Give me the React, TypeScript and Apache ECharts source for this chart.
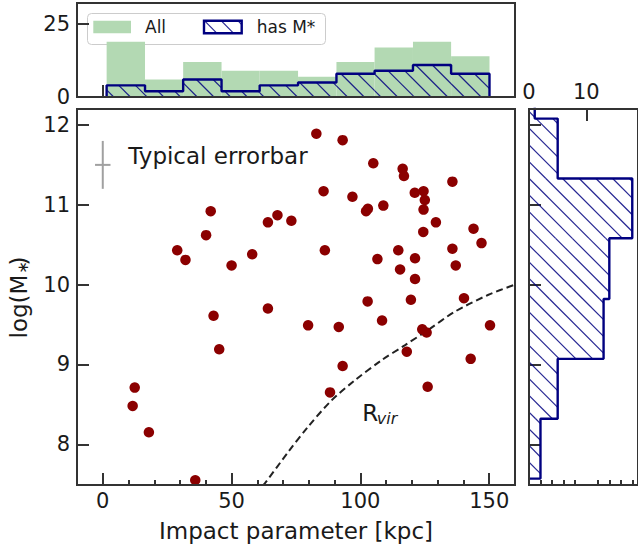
import React, { useEffect, useRef } from 'react';
import * as echarts from 'echarts';

// ---------------- data ----------------
const impactKpc = [
  82.9, 93.1, 105.0, 116.4, 116.9, 135.7, 85.7, 96.9, 121.1, 124.5,
  125.0, 41.9, 102.9, 108.9, 124.5, 67.8, 40.1, 64.1, 73.2, 129.3,
  124.4, 143.9, 147.0, 28.9, 32.1, 50.0, 58.0, 86.2, 114.7, 135.7,
  106.6, 121.2, 137.0, 115.4, 121.2, 43.0, 64.1, 102.8, 119.6, 140.2,
  79.7, 91.6, 108.4, 124.0, 125.7, 150.3, 45.2, 118.0, 93.1, 142.8,
  12.4, 11.6, 88.2, 126.1, 17.9, 35.9, 102.2,
];
const logMstar = [
  11.89, 11.81, 11.52, 11.45, 11.36, 11.29, 11.17, 11.10, 11.15, 11.17,
  11.06, 10.92, 10.95, 10.99, 10.94, 10.87, 10.62, 10.78, 10.80, 10.78,
  10.66, 10.70, 10.52, 10.43, 10.31, 10.24, 10.38, 10.43, 10.43, 10.45,
  10.32, 10.33, 10.24, 10.19, 10.07, 9.61, 9.70, 9.79, 9.81, 9.83,
  9.49, 9.47, 9.55, 9.44, 9.40, 9.49, 9.19, 9.16, 8.98, 9.07,
  8.71, 8.48, 8.65, 8.72, 8.15, 7.55, 10.92,
];

// virial radius curve
const rvirKpc = [62.0, 62.9, 71.9, 79.7, 88.8, 97.8, 108.1, 117.2, 126.2, 136.6, 149.5, 160.0];
const rvirLogM = [7.48, 7.51, 7.90, 8.22, 8.55, 8.80, 9.05, 9.24, 9.43, 9.66, 9.87, 10.0];

// top histogram (impact parameter)
const topBinEdges = [1.5, 16.4, 31.2, 46.1, 60.9, 75.8, 90.7, 105.5, 120.4, 135.2, 150.1];
const allCounts = [19, 6, 12, 9, 9, 7, 12, 17, 19, 14];
const massCounts = [4, 2, 6, 2, 4, 5, 8, 9, 11, 8];

// right histogram (log M*)
const rightBinEdges = [7.57, 8.32, 9.07, 9.82, 10.58, 11.33, 12.08, 12.84];
const rightCounts = [2, 5, 13, 14, 18, 5, 1];

// typical error bar [x, y, xerr, yerr]
const errorBar = [0, 11.5, 3, 0.3];

// tick values
const xMajorTicks = [0, 50, 100, 150];
const xMinorTicks = [-10, 10, 20, 30, 40, 60, 70, 80, 90, 110, 120, 130, 140, 160];
const yTicks = [8, 9, 10, 11, 12];
const topYTicks = [0, 25];
const rightXMajor = [0, 10];
const rightXMinor = [2, 4, 6, 8, 12, 14, 16, 18];

// ---------------- styles ----------------
const FONT = "'DejaVu Sans', sans-serif";
const TXT = '#1a1a1a';
const SPINE = '#333333';
const NAVY = '#000080';
const GREEN = '#b3d9b3';
const RED = '#8b0000';
const HATCH_STEP = 16.7;

function hatchSegments(x0: number, y0: number, x1: number, y1: number) {
  const segs: number[][] = [];
  const cMin = y0 - x1;
  const cMax = y1 - x0;
  for (let k = Math.ceil(cMin / HATCH_STEP); k * HATCH_STEP <= cMax; k++) {
    const c = k * HATCH_STEP;
    const xa = Math.max(x0, y0 - c);
    const xb = Math.min(x1, y1 - c);
    if (xb - xa > 0.5) segs.push([xa, xa + c, xb, xb + c]);
  }
  return segs;
}

function hatchLines(x0: number, y0: number, x1: number, y1: number) {
  return hatchSegments(x0, y0, x1, y1).map((s) => ({
    type: 'line',
    silent: true,
    shape: { x1: s[0], y1: s[1], x2: s[2], y2: s[3] },
    style: { stroke: NAVY, lineWidth: 1.2, opacity: 0.85 },
  }));
}

function stepTop(edges: number[], counts: number[]) {
  const pts: number[][] = [[edges[0], 0]];
  counts.forEach((c, i) => {
    pts.push([edges[i], c]);
    pts.push([edges[i + 1], c]);
  });
  pts.push([edges[edges.length - 1], 0]);
  return pts;
}

function stepRight(edges: number[], counts: number[]) {
  const pts: number[][] = [[0, edges[0]]];
  counts.forEach((c, i) => {
    pts.push([c, edges[i]]);
    pts.push([c, edges[i + 1]]);
  });
  pts.push([0, edges[edges.length - 1]]);
  return pts;
}

const tickStyle = { color: SPINE, width: 2 };
const labelStyle = { fontSize: 21, color: TXT, fontFamily: FONT };

function xAxisDef(gridIndex: number, min: number, max: number, ticks: number[], len: number, labels: boolean, position: string, margin = 5) {
  return {
    type: 'value',
    gridIndex,
    min,
    max,
    position,
    axisLine: { show: false, onZero: false },
    axisTick: { show: true, inside: true, length: len, lineStyle: tickStyle, customValues: ticks },
    axisLabel: labels ? { show: true, customValues: ticks, margin, ...labelStyle } : { show: false },
    splitLine: { show: false },
  };
}

function yAxisDef(gridIndex: number, min: number, max: number, ticks: number[], labels: boolean) {
  return {
    type: 'value',
    gridIndex,
    min,
    max,
    position: 'left',
    axisLine: { show: false, onZero: false },
    axisTick: { show: true, inside: true, length: 12, lineStyle: tickStyle, customValues: ticks },
    axisLabel: labels ? { show: true, customValues: ticks, margin: 7, ...labelStyle } : { show: false },
    splitLine: { show: false },
  };
}

export default function App() {
  const ref = useRef<HTMLDivElement>(null);

  useEffect(() => {
    document.body.style.margin = '0';
    if (!ref.current) return;
    const chart = echarts.init(ref.current, null, { renderer: 'svg' });

    const gridBase = { show: true, borderColor: SPINE, borderWidth: 2, backgroundColor: 'transparent', z: 5 };

    const option: any = {
      animation: false,
      grid: [
        { ...gridBase, left: 77, top: 109, width: 438, height: 376 },
        { ...gridBase, left: 77, top: 3, width: 438, height: 94 },
        { ...gridBase, left: 529, top: 109, width: 111, height: 376 },
      ],
      xAxis: [
        xAxisDef(0, -10, 160, xMajorTicks, 12, true, 'bottom', 5),
        xAxisDef(0, -10, 160, xMinorTicks, 5, false, 'bottom'),
        xAxisDef(1, -10, 160, xMajorTicks, 12, false, 'bottom'),
        xAxisDef(1, -10, 160, xMinorTicks, 5, false, 'bottom'),
        xAxisDef(2, 0, 19, rightXMajor, 12, true, 'top', 7),
        xAxisDef(2, 0, 19, rightXMinor, 5, false, 'bottom'),
      ],
      yAxis: [
        yAxisDef(0, 7.49, 12.2, yTicks, true),
        yAxisDef(1, 0, 32.3, topYTicks, true),
        yAxisDef(2, 7.49, 12.2, yTicks, false),
      ],
      series: [
        // top: all
        {
          type: 'custom',
          xAxisIndex: 2,
          yAxisIndex: 1,
          encode: { x: [0, 1], y: 2 },
          data: allCounts.map((c, i) => [topBinEdges[i], topBinEdges[i + 1], c]),
          renderItem: (_p: any, api: any) => {
            const a = api.coord([api.value(0), 0]);
            const b = api.coord([api.value(1), api.value(2)]);
            return {
              type: 'rect',
              shape: { x: a[0], y: b[1], width: b[0] - a[0], height: a[1] - b[1] },
              style: { fill: GREEN },
            };
          },
          silent: true,
        },
        // top: has M* hatch
        {
          type: 'custom',
          xAxisIndex: 2,
          yAxisIndex: 1,
          encode: { x: [0, 1], y: 2 },
          data: massCounts.map((c, i) => [topBinEdges[i], topBinEdges[i + 1], c]),
          renderItem: (_p: any, api: any) => {
            const a = api.coord([api.value(0), 0]);
            const b = api.coord([api.value(1), api.value(2)]);
            return { type: 'group', children: hatchLines(a[0], b[1], b[0], a[1]) };
          },
          silent: true,
        },
        {
          type: 'line',
          xAxisIndex: 2,
          yAxisIndex: 1,
          data: stepTop(topBinEdges, massCounts),
          symbol: 'none',
          lineStyle: { color: NAVY, width: 2.4 },
          clip: true,
          silent: true,
        },
        // right: hatch
        {
          type: 'custom',
          xAxisIndex: 4,
          yAxisIndex: 2,
          encode: { x: 0, y: [1, 2] },
          clip: true,
          data: rightCounts.map((c, i) => [c, rightBinEdges[i], rightBinEdges[i + 1]]),
          renderItem: (_p: any, api: any) => {
            const a = api.coord([0, api.value(1)]);
            const b = api.coord([api.value(0), api.value(2)]);
            return { type: 'group', children: hatchLines(a[0], b[1], b[0], a[1]) };
          },
          silent: true,
        },
        {
          type: 'line',
          xAxisIndex: 4,
          yAxisIndex: 2,
          data: stepRight(rightBinEdges, rightCounts),
          symbol: 'none',
          lineStyle: { color: NAVY, width: 2.4 },
          clip: true,
          silent: true,
        },
        // main: Rvir curve
        {
          type: 'line',
          xAxisIndex: 0,
          yAxisIndex: 0,
          data: rvirKpc.map((x, i) => [x, rvirLogM[i]]),
          symbol: 'none',
          smooth: 0.3,
          lineStyle: { color: '#222222', width: 2, type: [7, 4] },
          clip: true,
          silent: true,
        },
        // main: error bar
        {
          type: 'custom',
          xAxisIndex: 0,
          yAxisIndex: 0,
          encode: { x: 0, y: 1 },
          data: [errorBar],
          renderItem: (_p: any, api: any) => {
            const x = api.value(0), y = api.value(1), dx = api.value(2), dy = api.value(3);
            const t = api.coord([x, y + dy]);
            const bt = api.coord([x, y - dy]);
            const l = api.coord([x - dx, y]);
            const r = api.coord([x + dx, y]);
            const st = { stroke: '#a0a0a0', lineWidth: 2 };
            return {
              type: 'group',
              children: [
                { type: 'line', shape: { x1: t[0], y1: t[1], x2: bt[0], y2: bt[1] }, style: st },
                { type: 'line', shape: { x1: l[0], y1: l[1], x2: r[0], y2: r[1] }, style: st },
              ],
            };
          },
          silent: true,
        },
        // main: scatter
        {
          type: 'scatter',
          xAxisIndex: 0,
          yAxisIndex: 0,
          data: impactKpc.map((x, i) => [x, logMstar[i]]),
          symbolSize: 10.5,
          itemStyle: { color: RED, opacity: 1 },
          silent: true,
          z: 3,
        },
      ],
      graphic: [
        // legend
        {
          type: 'group',
          z: 100,
          children: [
            {
              type: 'rect',
              shape: { x: 87.5, y: 13.5, width: 238, height: 31, r: 4 },
              style: { fill: 'rgba(255,255,255,0.8)', stroke: '#cccccc', lineWidth: 1 },
            },
            { type: 'rect', shape: { x: 93.3, y: 20.7, width: 37.7, height: 12.6 }, style: { fill: GREEN } },
            {
              type: 'text',
              x: 145,
              y: 27.3,
              style: { text: 'All', fontSize: 17, fontFamily: FONT, fill: TXT, verticalAlign: 'middle', align: 'left' },
            },
            ...hatchLines(204, 20.7, 241.7, 33.3),
            {
              type: 'rect',
              shape: { x: 204, y: 20.7, width: 37.7, height: 12.6 },
              style: { fill: 'none', stroke: NAVY, lineWidth: 2.4 },
            },
            {
              type: 'text',
              x: 256.7,
              y: 27.3,
              style: { text: 'has M*', fontSize: 17, fontFamily: FONT, fill: TXT, verticalAlign: 'middle', align: 'left' },
            },
          ],
        },
        // errorbar label
        {
          type: 'text',
          z: 50,
          x: 128.3,
          y: 156,
          style: { text: 'Typical errorbar', fontSize: 23, fontFamily: FONT, fill: TXT, verticalAlign: 'middle', align: 'left' },
        },
        // R_vir label
        {
          type: 'text',
          z: 50,
          x: 362.3,
          y: 413,
          style: { text: 'R', fontSize: 23, fontFamily: FONT, fill: TXT, verticalAlign: 'middle', align: 'left' },
        },
        {
          type: 'text',
          z: 50,
          x: 376.8,
          y: 418.5,
          style: { text: 'vir', fontSize: 16, fontStyle: 'italic', fontFamily: FONT, fill: TXT, verticalAlign: 'middle', align: 'left' },
        },
        // x axis name
        {
          type: 'text',
          z: 50,
          x: 296,
          y: 531,
          style: { text: 'Impact parameter [kpc]', fontSize: 23, fontFamily: FONT, fill: TXT, verticalAlign: 'middle', align: 'center' },
        },
        // y axis name (rotated)
        {
          type: 'group',
          z: 50,
          x: 19,
          y: 297.5,
          rotation: Math.PI / 2,
          children: [
            {
              type: 'text',
              x: -41,
              y: 0,
              style: { text: 'log(M', fontSize: 23, fontFamily: FONT, fill: TXT, verticalAlign: 'middle', align: 'left' },
            },
            {
              type: 'text',
              x: 23.8,
              y: 4,
              style: { text: '∗', fontSize: 15, fontFamily: FONT, fill: TXT, verticalAlign: 'middle', align: 'left' },
            },
            {
              type: 'text',
              x: 32,
              y: 0,
              style: { text: ')', fontSize: 23, fontFamily: FONT, fill: TXT, verticalAlign: 'middle', align: 'left' },
            },
          ],
        },
      ],
    };

    chart.setOption(option);
    return () => chart.dispose();
  }, []);

  return <div ref={ref} style={{ width: 638, height: 550 }} />;
}
